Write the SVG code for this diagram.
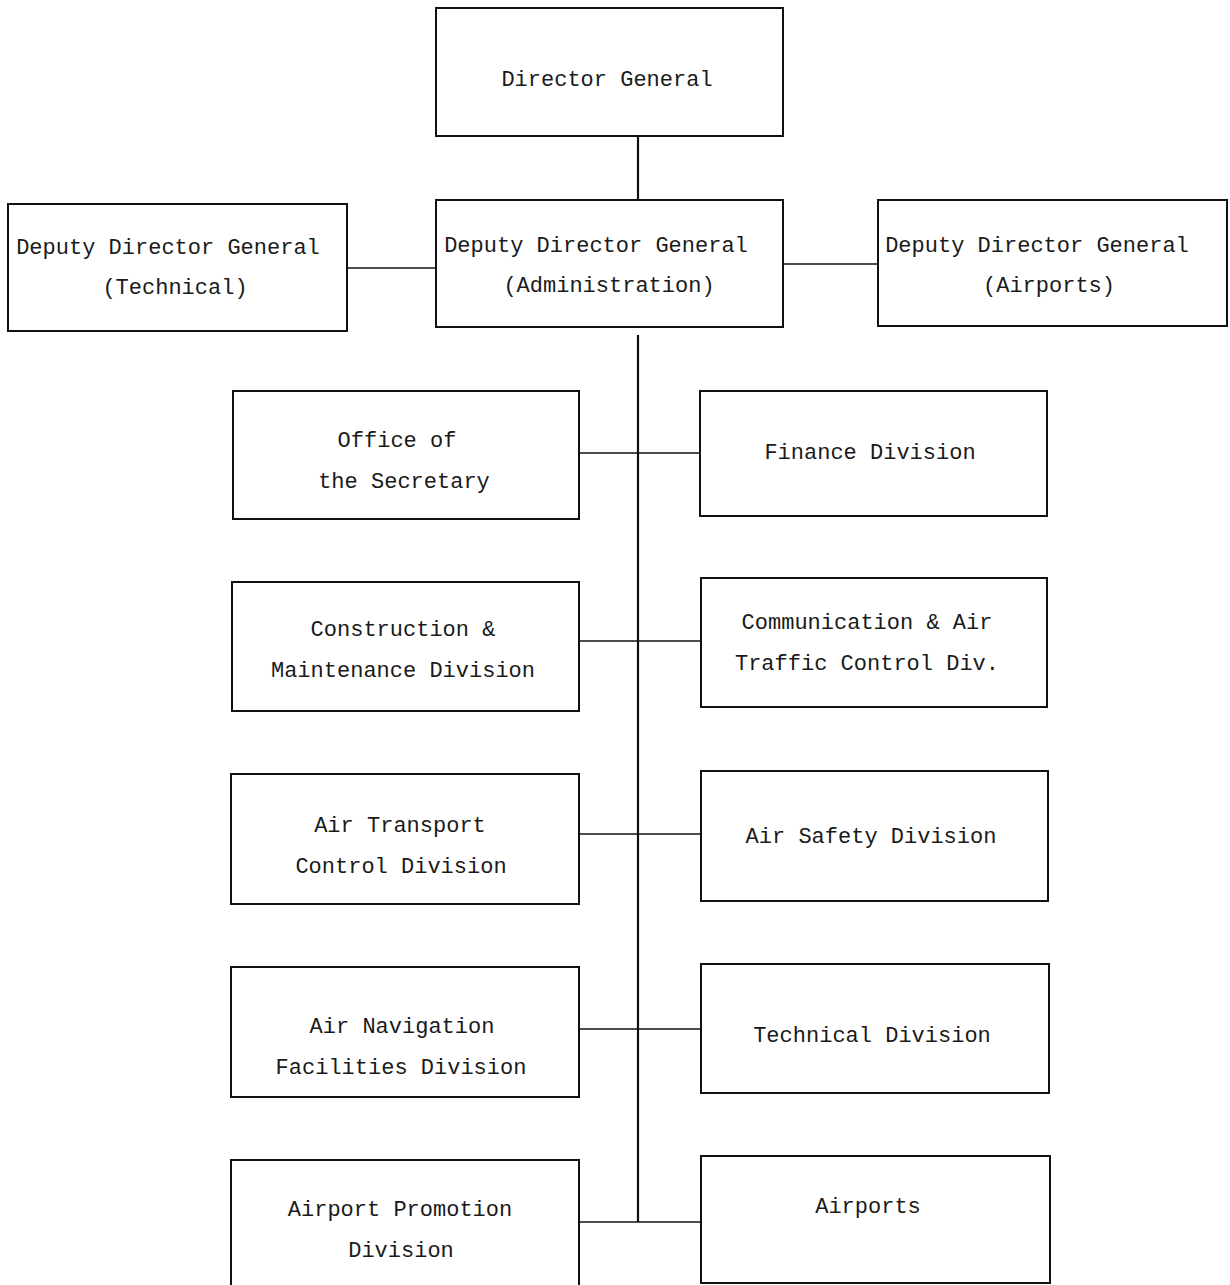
<svg xmlns="http://www.w3.org/2000/svg" width="1230" height="1285" viewBox="0 0 1230 1285">
<style>
.box{fill:#fff;stroke:#111;stroke-width:2}
.ln{stroke:#111;stroke-width:1.6;fill:none}
.vl{stroke:#111;stroke-width:2.2;fill:none}
text{font-family:"Liberation Mono","DejaVu Sans Mono",monospace;font-size:22px;fill:#1a1a1a;text-anchor:middle}
</style>
<rect width="1230" height="1285" fill="#fff"/>
<g id="connectors">
<line class="vl" x1="638" y1="136" x2="638" y2="200"/>
<line class="vl" x1="638" y1="335" x2="638" y2="1222"/>
<line class="ln" x1="347" y1="268" x2="436" y2="268"/>
<line class="ln" x1="783" y1="264" x2="878" y2="264"/>
<line class="ln" x1="579" y1="453" x2="700" y2="453"/>
<line class="ln" x1="579" y1="641" x2="701" y2="641"/>
<line class="ln" x1="579" y1="834" x2="701" y2="834"/>
<line class="ln" x1="579" y1="1029" x2="701" y2="1029"/>
<line class="ln" x1="579" y1="1222" x2="701" y2="1222"/>
</g>
<g id="director-general"><rect class="box" x="436" y="8" width="347" height="128"/><text x="607" y="86">Director General</text></g>
<g id="ddg-admin"><rect class="box" x="436" y="200" width="347" height="127"/><text x="596" y="252">Deputy Director General</text><text x="609" y="292">(Administration)</text></g>
<g id="ddg-tech"><rect class="box" x="8" y="204" width="339" height="127"/><text x="168" y="254">Deputy Director General</text><text x="175" y="294">(Technical)</text></g>
<g id="ddg-airports"><rect class="box" x="878" y="200" width="349" height="126"/><text x="1037" y="252">Deputy Director General</text><text x="1049" y="292">(Airports)</text></g>
<g id="office-secretary"><rect class="box" x="233" y="391" width="346" height="128"/><text x="397" y="447">Office of</text><text x="404" y="488">the Secretary</text></g>
<g id="finance"><rect class="box" x="700" y="391" width="347" height="125"/><text x="870" y="459">Finance Division</text></g>
<g id="construction"><rect class="box" x="232" y="582" width="347" height="129"/><text x="403" y="636">Construction &amp;</text><text x="403" y="677">Maintenance Division</text></g>
<g id="communication"><rect class="box" x="701" y="578" width="346" height="129"/><text x="867" y="629">Communication &amp; Air</text><text x="867" y="670">Traffic Control Div.</text></g>
<g id="air-transport"><rect class="box" x="231" y="774" width="348" height="130"/><text x="400" y="832">Air Transport</text><text x="401" y="873">Control Division</text></g>
<g id="air-safety"><rect class="box" x="701" y="771" width="347" height="130"/><text x="871" y="843">Air Safety Division</text></g>
<g id="air-navigation"><rect class="box" x="231" y="967" width="348" height="130"/><text x="402" y="1033">Air Navigation</text><text x="401" y="1074">Facilities Division</text></g>
<g id="technical"><rect class="box" x="701" y="964" width="348" height="129"/><text x="872" y="1042">Technical Division</text></g>
<g id="airport-promotion"><rect class="box" x="231" y="1160" width="348" height="140"/><text x="400" y="1216">Airport Promotion</text><text x="401" y="1257">Division</text></g>
<g id="airports"><rect class="box" x="701" y="1156" width="349" height="127"/><text x="868" y="1213">Airports</text></g>
</svg>
